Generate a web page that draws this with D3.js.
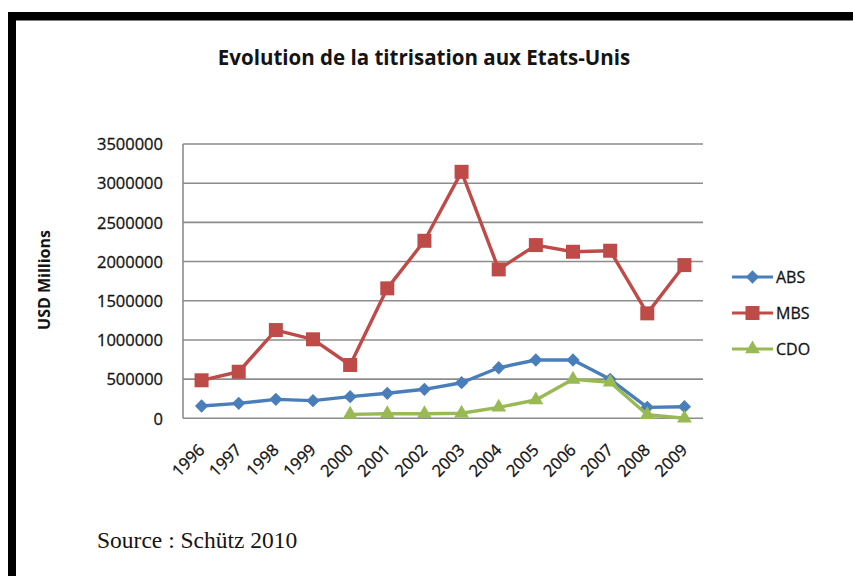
<!DOCTYPE html>
<html>
<head>
<meta charset="utf-8">
<script src="https://cdn.jsdelivr.net/npm/d3@7"></script>
<style>
  body { margin: 0; background: #fff; }
  svg { display: block; }
  text { font-family: "Open Sans", Lato, sans-serif; fill: #141414; }
</style>
</head>
<body>
<div id="chart-area"></div>
<script>
// Data (USD millions)
const years = ["1996", "1997", "1998", "1999", "2000", "2001", "2002",
               "2003", "2004", "2005", "2006", "2007", "2008", "2009"];
const absValues = [157000, 191000, 242000, 225000, 276000, 319000, 370000,
                   454000, 645000, 744000, 744000, 497000, 140000, 148000];
const mbsValues = [485000, 594000, 1126000, 1008000, 680000, 1658000, 2265000,
                   3145000, 1900000, 2210000, 2125000, 2138000, 1339000, 1955000];
// CDO starts in 2000
const cdoValues = [null, null, null, null, 50000, 58000, 58000,
                   64000, 140000, 233000, 497000, 459000, 45000, 0];
const yTicks = [0, 500000, 1000000, 1500000, 2000000, 2500000, 3000000, 3500000];

const seriesNames = ["ABS", "MBS", "CDO"];
const seriesColors = ["#4a7ebb", "#be4b48", "#98b954"];
// diamond = square turned 45 degrees
const seriesShapes = [d3.symbolSquare, d3.symbolSquare, d3.symbolTriangle];
const seriesRotate = [45, 0, 0];
const seriesSizes = [88, 196, 95];
const seriesValues = [absValues, mbsValues, cdoValues];

const width = 853, height = 576;

const svg = d3.select("#chart-area")
    .append("svg")
    .attr("width", width)
    .attr("height", height);

// black frame on top and left
svg.append("rect").attr("x", 8).attr("y", 12).attr("width", width - 8).attr("height", 8.5).attr("fill", "#000");
svg.append("rect").attr("x", 8).attr("y", 12).attr("width", 8).attr("height", height - 12).attr("fill", "#000");

// scales
const x = d3.scaleBand().domain(years).range([183, 703]);
const y = d3.scaleLinear().domain([0, 3500000]).range([418.3, 144]);
const cx = d => x(d) + x.bandwidth() / 2;

// title
svg.append("text")
    .attr("x", 424)
    .attr("y", 65)
    .attr("text-anchor", "middle")
    .style("font-weight", "bold")
    .style("font-size", "20.5px")
    .text("Evolution de la titrisation aux Etats-Unis");

// gridlines
svg.append("g")
    .selectAll("line")
    .data(yTicks)
    .join("line")
    .attr("x1", 183)
    .attr("x2", 703)
    .attr("y1", d => y(d))
    .attr("y2", d => y(d))
    .attr("stroke", "#8c8c8c")
    .attr("stroke-width", 1.6);

// vertical axis line
svg.append("line")
    .attr("x1", 183).attr("x2", 183)
    .attr("y1", y(3500000)).attr("y2", y(0))
    .attr("stroke", "#8c8c8c")
    .attr("stroke-width", 1.6);

// y tick labels
const yAxis = d3.axisLeft(y).tickValues(yTicks).tickFormat(d3.format("d")).tickSize(0).tickPadding(20);
const yG = svg.append("g").attr("transform", "translate(183,0)").call(yAxis);
yG.select(".domain").remove();
yG.selectAll("text")
    .style("font-family", "'Open Sans', sans-serif")
    .style("font-size", "16.5px")
    .attr("fill", "#141414")
    .attr("stroke", "#141414")
    .attr("stroke-width", 0.3)
    .attr("dy", "0.35em");

// x tick labels, rotated
svg.append("g")
    .selectAll("text")
    .data(years)
    .join("text")
    .attr("transform", d => `translate(${cx(d) + 4},${451}) rotate(-45)`)
    .attr("text-anchor", "end")
    .style("font-size", "16.5px")
    .attr("stroke", "#141414")
    .attr("stroke-width", 0.3)
    .text(d => d);

// y axis title
svg.append("text")
    .attr("transform", "translate(50,280) rotate(-90)")
    .attr("text-anchor", "middle")
    .style("font-weight", "bold")
    .style("font-size", "16px")
    .text("USD Millions");

const marker = si => d3.symbol().type(seriesShapes[si]).size(seriesSizes[si]);

// series lines + markers
seriesNames.forEach((name, si) => {
    const pts = years.map((yr, i) => ({ yr, v: seriesValues[si][i] }));
    const line = d3.line()
        .defined(d => d.v !== null)
        .x(d => cx(d.yr))
        .y(d => y(d.v));

    svg.append("path")
        .datum(pts)
        .attr("d", line)
        .attr("fill", "none")
        .attr("stroke", seriesColors[si])
        .attr("stroke-width", 3.4)
        .attr("stroke-linejoin", "round");

    svg.append("g")
        .selectAll("path")
        .data(pts.filter(d => d.v !== null))
        .join("path")
        .attr("transform", d => `translate(${cx(d.yr)},${y(d.v)}) rotate(${seriesRotate[si]})`)
        .attr("d", marker(si))
        .attr("fill", seriesColors[si]);
});

// legend
const legend = svg.append("g").attr("transform", "translate(732,277)");
seriesNames.forEach((name, si) => {
    const g = legend.append("g").attr("transform", `translate(0,${si * 36})`);
    g.append("line")
        .attr("x1", 0).attr("x2", 41)
        .attr("stroke", seriesColors[si])
        .attr("stroke-width", 3.2);
    g.append("path")
        .attr("transform", `translate(20.5,0) rotate(${seriesRotate[si]})`)
        .attr("d", marker(si))
        .attr("fill", seriesColors[si]);
    g.append("text")
        .attr("x", 44)
        .attr("dy", "0.35em")
        .style("font-size", "16px")
        .attr("stroke", "#141414")
        .attr("stroke-width", 0.3)
        .text(name);
});

// source note
svg.append("text")
    .attr("x", 97)
    .attr("y", 548)
    .style("font-family", "'Liberation Serif', serif")
    .style("font-size", "23.5px")
    .text("Source : Schütz 2010");
</script>
</body>
</html>
